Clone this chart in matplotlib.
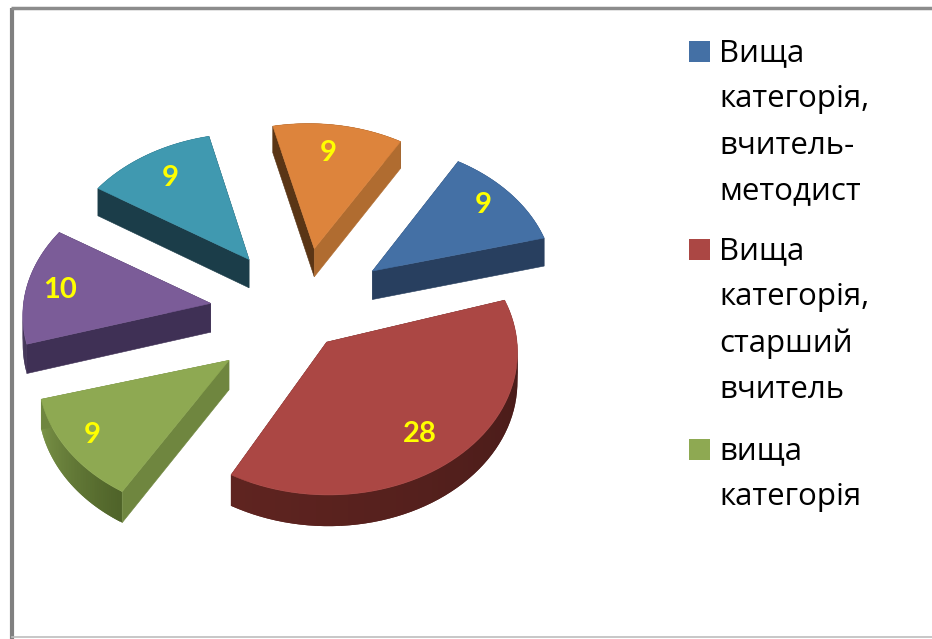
import numpy as np
import matplotlib
matplotlib.use('Agg')
import matplotlib.pyplot as plt
from matplotlib.colors import to_rgb
from matplotlib.patches import Polygon, Rectangle

values = [9, 28, 9, 10, 9, 9]
explode = [0.48, 0.255, 0.48, 0.48, 0.48, 0.48]
nudge_x = [1, 2, 8, 3, -2, -2]
nudge_y = [-3, 0, 7, 2, 1, 0]
rotate = [0, 3, 1, 2.5, 1, 0]
apex_dx = [4, 0, -1, 0, 4, 5]
top_colors = ['#4470A5', '#AB4744', '#8EA952', '#7B5C98', '#4099B0', '#DD843C']
wall_start = ['#283F5F', '#5F2420', '#6F863F', '#3F3055', '#1B3D49', '#5A3515']
wall_end = ['#283F5F', '#5F2420', '#6F863F', '#3F3055', '#1B3D49', '#B06C30']
rim_a = ['#283F5F', '#451A18', '#4F6329', '#3F3055', '#1B3D49', '#5A3515']
rim_b = ['#283F5F', '#5F2420', '#7B9448', '#3F3055', '#1B3D49', '#5A3515']
label_r = [0.82, 0.77, 0.85, 0.817, 0.766, 0.762]
label_ang = [37.7, -53, -144, 173.2, 124.4, 81.6]

legend_labels = ['Вища\nкатегорія,\nвчитель-\nметодист',
                 'Вища\nкатегорія,\nстарший\nвчитель',
                 'вища\nкатегорія']
legend_colors = top_colors[:3]
legend_y = [50, 248, 448]

start_angle = 58.1
cx, cy = 296, 313
a, b, k = 188, 140, 0.06
depth = 29
draw_order = [5, 4, 3, 0, 2, 1]


def project(X, Y, z=0):
    p = 1 / (1 + k * Y)
    return np.column_stack([cx + a * X * p, cy - b * Y * p + z * p])


fig = plt.figure(figsize=(9.32, 6.39), dpi=100)
ax = fig.add_axes([0, 0, 1, 1])
ax.set_xlim(0, 932)
ax.set_ylim(639, 0)
ax.axis('off')

# frame
ax.plot([12, 12], [639, 8], color='#808080', lw=3, solid_capstyle='butt')
ax.plot([11, 932], [8, 8], color='#8C8C8C', lw=2.5, solid_capstyle='butt')
ax.plot([12, 932], [637, 637], color='#BDBDBD', lw=1.2)

sweeps = np.array(values) / sum(values) * 360
starts = start_angle - np.concatenate([[0], np.cumsum(sweeps)[:-1]])

for i in draw_order:
    s0 = starts[i] + rotate[i]
    t = np.radians(np.linspace(s0, s0 - sweeps[i], 60))
    mid = np.radians(starts[i] - sweeps[i] / 2)
    ox, oy = explode[i] * np.cos(mid), explode[i] * np.sin(mid)
    X, Y = ox + np.cos(t), oy + np.sin(t)
    shift = np.array([nudge_x[i], nudge_y[i]])
    apex_shift = shift + np.array([apex_dx[i], 0])
    arc_top = project(X, Y) + shift
    arc_low = project(X, Y, depth) + shift
    apex_top = project(np.array([ox]), np.array([oy])) + apex_shift
    apex_low = project(np.array([ox]), np.array([oy]), depth) + apex_shift

    # rim drawn as overlapping quads so the shade can run along it
    ca, cb = np.array(to_rgb(rim_a[i])), np.array(to_rgb(rim_b[i]))
    for j in range(len(t) - 1):
        f = j / (len(t) - 2)
        col = ca + (cb - ca) * f
        e = min(j + 2, len(t) - 1)
        quad = [arc_top[j], arc_top[e], arc_low[e], arc_low[j]]
        ax.add_patch(Polygon(quad, closed=True, fc=col, ec='none'))

    ax.add_patch(Polygon([apex_top[0], arc_top[0], arc_low[0], apex_low[0]],
                         closed=True, fc=wall_start[i], ec=wall_start[i], lw=0.4))
    ax.add_patch(Polygon([apex_top[0], arc_top[-1], arc_low[-1], apex_low[0]],
                         closed=True, fc=wall_end[i], ec=wall_end[i], lw=0.4))
    ax.add_patch(Polygon(np.vstack([apex_top, arc_top]), closed=True,
                         fc=top_colors[i], ec=top_colors[i], lw=0.4))

    ang = np.radians(label_ang[i])
    lab = project(np.array([ox + label_r[i] * np.cos(ang)]),
                  np.array([oy + label_r[i] * np.sin(ang)]))[0] + shift
    ax.text(lab[0], lab[1], str(values[i]), color='#FFFF00', fontsize=21,
            fontweight='bold', family='Lato', ha='center', va='center')

# legend
for label, col, y in zip(legend_labels, legend_colors, legend_y):
    ax.add_patch(Rectangle((689, y - 9), 21, 21, fc=col, ec='none'))
    for n, line in enumerate(label.split('\n')):
        ax.text(719, y + n * 46, line, fontsize=22.5, family=['Open Sans', 'Noto Sans'],
                color='black', ha='left', va='center_baseline')

fig.savefig('out.png', dpi=100)
